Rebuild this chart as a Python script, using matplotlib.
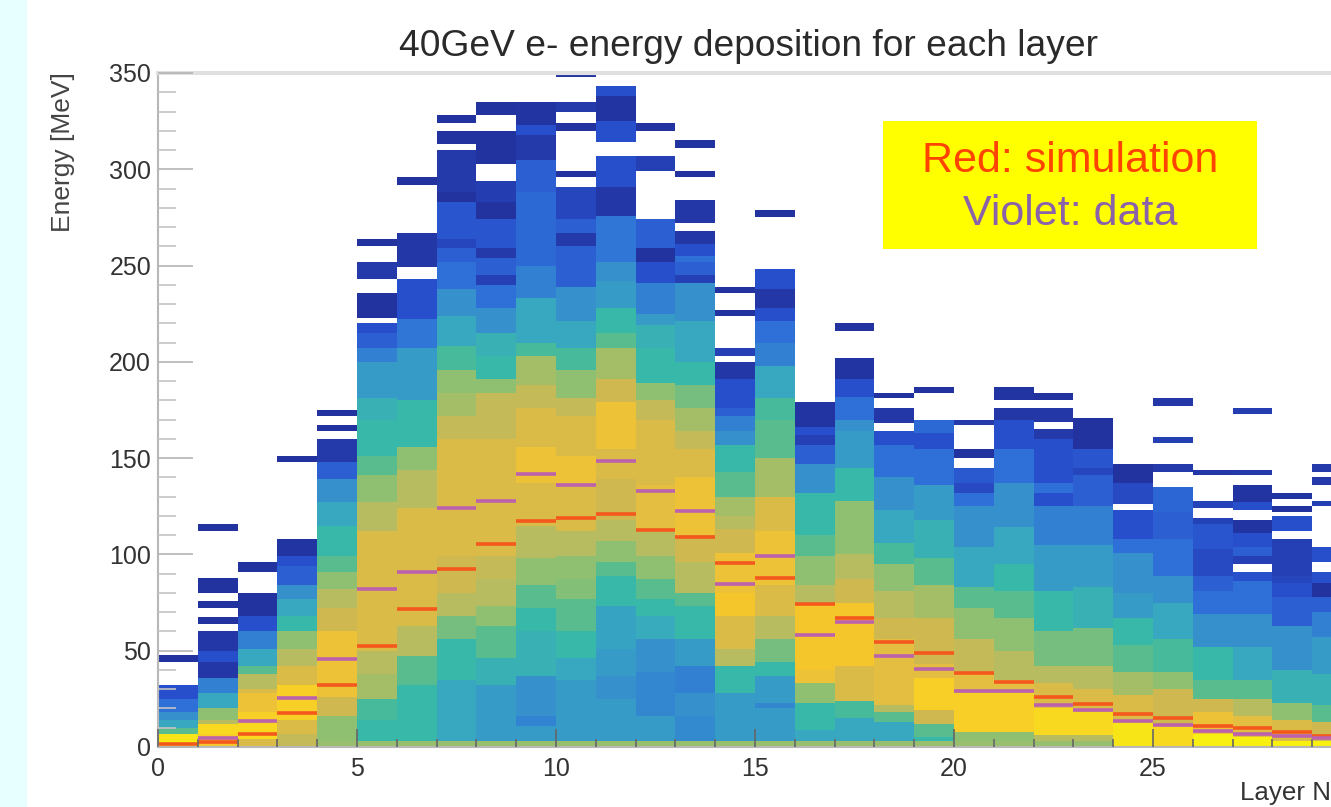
import matplotlib
matplotlib.use("Agg")
import matplotlib.pyplot as plt
from matplotlib.colors import LinearSegmentedColormap
from matplotlib.patches import Rectangle
from matplotlib.ticker import MultipleLocator

plt.rcParams['font.family'] = ['Liberation Sans', 'DejaVu Sans']

# each layer: (top of band in MeV, colour level), None = empty band
L00 = [(3, 13), (7, 12.5), (10, 6), (14, 4), (18, 3), (25, 2), (32, 1), (44, None), (48, 0)]
L01 = [(3, 11), (7, 11.5), (12, 12), (14, 8), (20, 7), (28, 4), (36, 2.5), (44, 0.2), (50, 1), (60, 0.2), (64, None), (67.5, 0), (72, None), (76, 0), (80, None), (88, 0), (112, None), (116, 0)]
L02 = [(4, 9.5), (12, 12), (18, 11.5), (28, 10.5), (30, 9.5), (38, 8), (42, 6), (51, 4), (60, 2.5), (68, 1), (80, 0), (91, None), (96, 0)]
L03 = [(7, 8.5), (14, 9.5), (25, 11.5), (32, 11.5), (42, 9.5), (51, 8), (60, 7), (68, 5), (77, 4), (84, 3), (94, 1.5), (99, 1), (108, 0.1), (148, None), (151, 0)]
L04 = [(3, 7.2), (16, 7), (26, 9), (38, 10.5), (60, 10.5), (72, 9), (82, 8), (91, 7), (99, 6), (115, 5), (127, 4), (139, 3), (148, 1.5), (160, 0.3), (164, None), (167, 0), (172, None), (175, 0)]
L05 = [(3, 7.2), (14, 5), (25, 5.5), (38, 7.5), (50, 8), (82, 9.5), (112, 9.5), (127, 8), (141, 7), (151, 6), (170, 5), (181, 4.5), (200, 3.5), (207, 2.5), (215, 1.5), (220, 1), (223, None), (236, 0), (243, None), (252, 0.3), (260, None), (264, 0)]
L06 = [(3, 7.2), (32, 5), (47, 6), (63, 8), (124, 9.5), (144, 8), (156, 7), (180, 5), (207, 3.5), (222, 2.2), (243, 1), (249, None), (267, 0.2), (292, None), (296, 0)]
L07 = [(3, 7.2), (35, 4), (56, 5), (68, 6.5), (80, 8), (99, 9), (160, 9.5), (172, 8.5), (184, 7.5), (196, 7), (208, 5.5), (224, 4), (238, 3), (252, 2), (259, 1.5), (264, 0.7), (283, 1.2), (288, 0), (310, 0.3), (313, None), (320, 0), (324, None), (328, 0)]
L08 = [(3, 7.2), (32, 3.5), (46, 4.5), (63, 6), (73, 7), (87, 8), (99, 8.5), (160, 9.5), (184, 8.5), (191, 7), (203, 5), (215, 4.5), (228, 3), (240, 2), (245, 0.5), (254, 1.5), (259, 0.3), (274, 1.2), (283, 0), (294, 0.4), (303, None), (320, 0), (328, None), (335, 0)]
L09 = [(3, 7.2), (11, 3.5), (16, 2.6), (37, 3), (60, 4.5), (72, 5), (84, 6), (98, 7), (115, 8), (137, 9.5), (156, 10.5), (176, 9.5), (188, 8.5), (203, 7.5), (210, 5.5), (233, 4), (250, 2.5), (288, 1.8), (305, 1.5), (318, 0.3), (323, 1), (335, 0.1)]
L10 = [(3, 7.2), (35, 3.5), (46, 4), (60, 5), (77, 6), (87, 6.8), (99, 7), (112, 8), (137, 9.5), (151, 10.5), (172, 9.5), (181, 8.5), (196, 7), (207, 5.5), (221, 4), (239, 3), (260, 1.5), (267, 0.3), (274, 1.5), (291, 0.7), (296, None), (299, 0), (320, None), (324, 0), (330, None), (335, 0.3), (348, None), (352, 0)]
L11 = [(3, 7.2), (25, 3.5), (37, 3), (51, 3.5), (73, 3.8), (89, 5), (96, 6), (107, 7), (118, 8), (139, 9), (155, 9.5), (179, 10.5), (191, 9), (207, 7.5), (215, 6), (228, 5), (242, 3.5), (252, 3), (276, 2.2), (291, 0.2), (307, 1), (314, None), (325, 1), (338, 0.1), (343, 1)]
L12 = [(3, 7.2), (16, 3.5), (39, 2.7), (56, 3), (68, 4.2), (77, 5), (87, 6), (99, 7), (112, 8), (136, 10), (170, 9.5), (180, 8.5), (189, 7), (207, 5), (219, 4.5), (225, 3.5), (241, 2.5), (252, 1), (259, 0), (274, 1.5), (299, None), (307, 0.5), (320, None), (324, 0)]
L13 = [(3, 7.2), (16, 2.8), (28, 3), (42, 2.5), (56, 3.5), (73, 5), (80, 6), (96, 8), (110, 9), (140, 10.5), (155, 9.5), (164, 8.5), (176, 7.5), (188, 6.5), (200, 5), (221, 4), (241, 3), (245, 0.5), (252, 1.5), (255, 2), (261, 1), (268, 0.2), (272, None), (284, 0.2), (296, None), (299, 0), (311, None), (315, 0)]
L14 = [(3, 7.2), (28, 3.5), (42, 5), (51, 8), (68, 9.5), (80, 11), (101, 10.5), (113, 9), (120, 8), (130, 7.5), (143, 6), (157, 5), (164, 3), (172, 2.5), (176, 1.5), (191, 1), (200, 0.2), (203, None), (207, 0.5), (224, None), (227, 0), (236, None), (239, 0)]
L15 = [(3, 7.2), (20, 3.5), (23, 2.7), (37, 3.5), (44, 5), (56, 6.5), (68, 8), (84, 9.5), (112, 10.5), (130, 9.5), (150, 7.5), (170, 6), (181, 5.5), (198, 4), (210, 2.5), (221, 2), (228, 1), (238, 0.2), (248, 1), (275, None), (279, 0)]
L16 = [(3, 7.2), (9, 4), (23, 5), (33, 7), (40, 10.5), (75, 11), (84, 8), (99, 7), (110, 6), (132, 5), (147, 3), (157, 1.5), (162, 0.5), (166, 1), (179, 0.1)]
L17 = [(3, 7.2), (15, 4), (24, 5.5), (42, 9.5), (75, 11), (87, 9), (100, 8), (128, 7), (145, 5), (164, 3.5), (170, 3), (182, 2), (191, 1), (202, 0.1), (216, None), (220, 0)]
L18 = [(3, 7.2), (13, 4), (18, 6), (22, 8), (56, 10), (67, 9), (81, 8), (95, 7), (106, 5.5), (123, 4), (140, 3), (157, 2), (164, 1), (168, None), (176, 0.2), (181, None), (184, 0)]
L19 = [(3, 7.2), (5, 5), (12, 6), (19, 9), (36, 11.5), (43, 10), (67, 9), (84, 7.5), (98, 6), (118, 4.5), (136, 3.5), (155, 2), (163, 1), (170, 1.8), (184, None), (187, 0)]
L20 = [(3, 7.2), (8, 7), (28, 11.5), (38, 10), (56, 8.5), (72, 7), (83, 6), (104, 4), (125, 3), (132, 2), (137, 0.8), (145, 1.3), (150, None), (155, 0), (167, None), (170, 0.3)]
L21 = [(3, 7.2), (8, 7), (28, 11.5), (35, 10), (50, 8), (67, 7), (81, 6), (95, 5), (114, 4), (137, 3), (155, 2), (170, 1), (176, 0.2), (180, None), (187, 0.1)]
L22 = [(3, 7.2), (6, 8), (20, 12), (33, 9.5), (42, 8), (60, 6.5), (81, 5), (105, 3.5), (125, 2.5), (132, 1), (137, 2), (160, 1), (165, 0.3), (169, None), (176, 0.2), (180, None), (184, 0)]
L23 = [(3, 7.2), (6, 8), (18, 12), (30, 9.5), (42, 8), (62, 6.5), (83, 4.5), (105, 3.5), (125, 2.5), (141, 1.5), (145, 0.7), (155, 1.2), (171, 0)]
L24 = [(13, 12.5), (27, 9.5), (39, 7.5), (53, 6), (67, 5), (80, 3.5), (101, 3), (108, 2), (123, 1), (126, None), (137, 0.8), (147, 0)]
L25 = [(11, 12), (30, 9), (39, 7), (56, 5.5), (75, 4), (89, 3), (108, 2), (122, 1.5), (135, 1.7), (143, None), (147, 0.3), (158, None), (161, 0.5), (177, None), (181, 0.2)]
L26 = [(7, 13), (18, 10.5), (25, 9), (35, 6), (52, 5), (69, 3), (81, 2), (89, 1.5), (103, 0.8), (116, 1.2), (119, 0.6), (124, None), (128, 0.6), (141, None), (144, 0.2)]
L27 = [(5, 13), (16, 10), (25, 8), (35, 6), (52, 4), (69, 3), (86, 2), (91, 1), (95, None), (99, 0.5), (104, 1.5), (111, 1), (118, 0.1), (123, None), (127, 1), (136, 0.1), (141, None), (144, 0.3), (173, None), (176, 0.4)]
L28 = [(3, 13), (14, 9.5), (23, 7), (40, 4.5), (63, 3), (78, 1.5), (85, 1), (89, 0.7), (108, 0.5), (112, None), (120, 1), (122, None), (125, 0), (129, None), (132, 0.1)]
L29 = [(3, 13), (13, 9), (22, 6), (38, 4.5), (57, 3.5), (70, 2.5), (78, 1.5), (85, 0), (91, 1), (96, None), (104, 1), (125, None), (128, 0.5), (136, None), (140, 0.3), (143, None), (147, 0.3)]
layers = [L00, L01, L02, L03, L04, L05, L06, L07, L08, L09, L10, L11, L12, L13, L14,
          L15, L16, L17, L18, L19, L20, L21, L22, L23, L24, L25, L26, L27, L28, L29]

simulation = [1.5, 2.5, 6.8, 17.7, 32, 52.5, 71.7, 92.5, 105.5, 117.5, 119, 121, 112.7, 109, 95.6,
              88, 74, 67, 54.5, 49, 38.4, 33.8, 26, 22.3, 17, 15, 11, 9.8, 7.8, 5.7]
data = [None, 4.5, 13.5, 25.5, 45.7, 82, 91, 124, 128, 142, 136, 148.6, 133, 122.6, 84.7,
        99, 58, 65, 47, 40.5, 29, 29, 22, 19, 13.5, 11.5, 8.3, 6.8, 5.7, 4.5]

bird = ['#2233a0', '#2850cc', '#2e70d8', '#3590cc', '#38a8c0', '#38b8a8', '#58bc90',
        '#90c070', '#b8bc60', '#d0b850', '#e4be40', '#f5c52c', '#f8d820', '#f8f010']
cmap = LinearSegmentedColormap.from_list("bird", bird)
W, H = 1331, 807

fig = plt.figure(figsize=(W / 100, H / 100), dpi=100)
fig.patches.append(Rectangle((0, 0), 27 / W, 1, transform=fig.transFigure, color='#e8ffff', lw=0))

ax = fig.add_axes([158 / W, 1 - 747 / H, (W - 158) / W, (747 - 73) / H])
for i, runs in enumerate(layers):
    bottom = 0
    for top, level in runs:
        if level is not None:
            ax.bar(i, top - bottom, bottom=bottom, width=1, align='edge', linewidth=0,
                   color=cmap(level / 13), antialiased=False, zorder=1)
        bottom = top

for i, (s, d) in enumerate(zip(simulation, data)):
    ax.hlines(s, i, i + 1, color='#f4581c', lw=2.6, zorder=2)
    if d is not None:
        ax.hlines(d, i, i + 1, color='#bc62ac', lw=2.6, zorder=3)

ax.set_xlim(0, (W - 158) / 39.8)
ax.set_ylim(0, 350)
ax.xaxis.set_major_locator(MultipleLocator(5))
ax.xaxis.set_minor_locator(MultipleLocator(1))
ax.yaxis.set_major_locator(MultipleLocator(50))
ax.yaxis.set_minor_locator(MultipleLocator(10))
ax.tick_params(axis='y', which='major', direction='in', length=25, width=1.2, color='#b4b4b4', labelsize=18, labelcolor='#333333', pad=5)
ax.tick_params(axis='y', which='minor', direction='in', length=13, width=1.2, color='#c4c4c4')
ax.tick_params(axis='x', which='major', direction='in', length=13, width=1.2, color='#666666', labelsize=18, labelcolor='#333333', pad=7)
ax.tick_params(axis='x', which='minor', direction='in', length=6, width=1.2, color='#666666')
ax.set_axisbelow(False)
for side in ['left', 'bottom']:
    ax.spines[side].set_color('#b8b8b8')
    ax.spines[side].set_linewidth(1.5)
ax.spines['top'].set_color('#e0e0e0')
ax.spines['top'].set_linewidth(3)
ax.spines['right'].set_visible(False)

fig.text(749 / W, 1 - 46 / H, "40GeV e- energy deposition for each layer", ha='center', va='center', fontsize=26.7, color='#2a2a2a')
fig.text(63 / W, 1 - 152 / H, "Energy [MeV]", rotation=90, ha='center', va='center', fontsize=19, color='#444444')
fig.text(1240 / W, 1 - 793 / H, "Layer N", ha='left', va='center', fontsize=18.7, color='#333333')

ax.add_patch(Rectangle((883 / W, 1 - 249 / H), 374 / W, 128 / H, transform=fig.transFigure, color='#ffff00', lw=0, zorder=5))
fig.text(1070 / W, 1 - 161 / H, "Red: simulation", ha='center', va='center', fontsize=31, color='#ff4400', zorder=6)
fig.text(1070 / W, 1 - 214 / H, "Violet: data", ha='center', va='center', fontsize=31, color='#8a62aa', zorder=6)

fig.savefig("out.png", dpi=100)
